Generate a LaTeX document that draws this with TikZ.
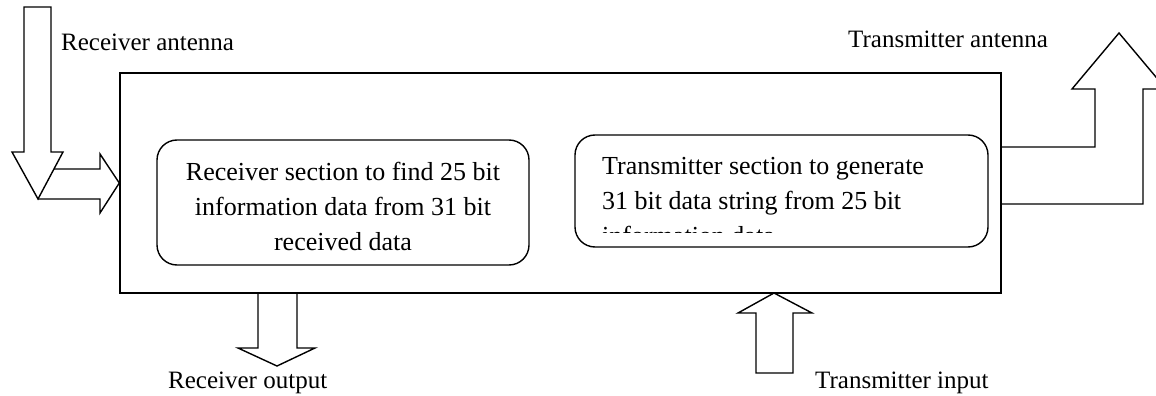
\documentclass[tikz,border=0pt]{standalone}
\usepackage{fontspec}
\setmainfont{Liberation Serif}
\usetikzlibrary{positioning}
\tikzset{
  frame/.style={draw,line width=1.4pt,inner sep=0pt},
  section/.style={frame,rounded corners=20pt,align=center,
    font=\fontsize{26}{35}\selectfont},
  lbl/.style={inner sep=0pt,anchor=base west,font=\fontsize{25}{28}\selectfont},
  blockarrow/.style={draw,line width=1.4pt,line join=miter}
}

\begin{document}
\begin{tikzpicture}[x=1pt,y=-1pt]
  \useasboundingbox (0,0) rectangle (1156,396);
  % system box and the two sections
  \node[frame,minimum width=881pt,minimum height=220pt] (sys) at (560.5,183) {};
  \node[section,minimum width=372pt,minimum height=125pt] (rx) at (343,202.5) {};
  \node[inner sep=0pt,align=center,font=\fontsize{26}{35}\selectfont] (rxtext) at (343,206)
    {Receiver section to find 25 bit\\information data from 31 bit\\received data};
  \node[section,minimum width=413pt,minimum height=112pt] (tx) at (781.5,191) {};
  \begin{scope}
    \clip (575,135) rectangle (988,232);
    \node[inner sep=0pt,anchor=north west,align=left,
      font=\fontsize{26}{35}\selectfont] (txtext) at (602,157)
      {Transmitter section to generate\\31 bit data string from 25 bit\\information data};
  \end{scope}

  % labels
  \node[lbl] (rxant) at (61,51) {Receiver antenna};
  \node[lbl] (txant) at (848,48) {Transmitter antenna};
  \node[lbl] (rxout) at (168,388) {Receiver output};
  \node[lbl] (txin) at (815,388) {Transmitter input};

  % block arrows
  \draw[blockarrow] (24,7) -- (51,7) -- (51,152) -- (63,152) -- (38,199)
    -- (12,152) -- (24,152) -- cycle;
  \draw[blockarrow] (54,169) -- (100,169) -- (100,154) -- (sys.west)
    -- (100,213) -- (100,199) -- (38,199);
  \draw[blockarrow] (1001,147) -- (1095,147) -- (1095,89) -- (1072,89)
    -- (1119,33) -- (1166,89) -- (1143,89) -- (1143,204) -- (1001,204);
  \draw[blockarrow] (258,293) -- (258,348) -- (238,348) -- (277,366)
    -- (315,348) -- (297,348) -- (297,293);
  \draw[blockarrow] (774,293) -- (812,313) -- (793,313) -- (793,373)
    -- (756,373) -- (756,313) -- (738,313) -- cycle;
\end{tikzpicture}
\end{document}
